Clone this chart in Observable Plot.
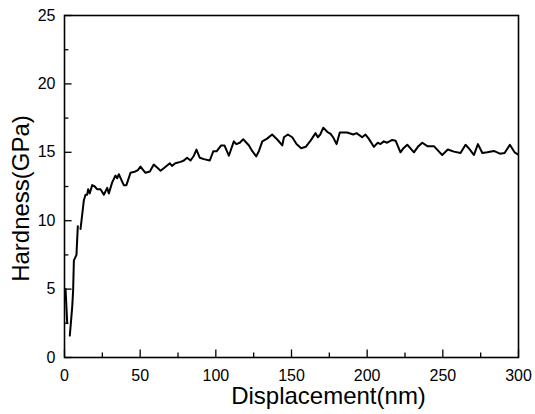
<!DOCTYPE html>
<html>
<head>
<meta charset="utf-8">
<script src="https://cdn.jsdelivr.net/npm/d3@7"></script>
<script src="https://cdn.jsdelivr.net/npm/@observablehq/plot@0.6"></script>
<style>
  html, body { margin: 0; padding: 0; background: white; }
  #chart { width: 535px; height: 414px; }
</style>
</head>
<body>
<div id="chart"></div>
<script>
// Data
const displacement = [0.7,1.8,2.6,3.5,5.1,5.7,6.2,7.9,8.8,9.7,10.6,12.8,13.9,15,15.6,16.7,18.3,20,21.5,23.8,26,28.2,29.3,31.5,33.7,34.8,35.9,37.5,39.2,40.9,43.6,46.9,48.5,50.2,53.5,56.4,59,61,63.5,66.8,69.6,71,73.2,76.7,78.9,81,83.3,85.5,87.2,89.4,92.1,96,98.3,100.5,103.5,105.7,108.6,111.9,113.5,115.8,118.1,121.9,124,126.7,128.5,130.7,133.9,137.2,140.9,143.9,145,147.6,150.5,153.3,156.4,159.4,162.6,165.9,167.4,169,171,173.6,175.8,177.5,179.8,181.9,186.7,190.8,193,196.7,198.9,201,204.4,207,208.8,211,213.2,216.6,218.8,222,224,226.5,228.5,230.9,233.5,236.4,239.8,244.1,247,249.6,253.3,257.3,261.7,265,267.9,270.5,273.2,276.1,279.4,283.7,287.7,290.8,294.3,297.4,299.6];
const hardness = [5.0,2.5,null,1.6,3.7,4.9,7.1,7.5,9.6,null,9.4,11.5,11.9,11.9,12.3,12.0,12.6,12.5,12.3,12.3,11.9,12.4,12.0,12.8,13.3,13.1,13.4,13.0,12.6,12.6,13.5,13.6,13.7,13.95,13.5,13.6,14.1,13.9,13.65,13.95,14.2,14.0,14.2,14.3,14.4,14.6,14.4,14.75,15.2,14.6,14.5,14.4,15.07,15.07,15.5,15.5,14.75,15.8,15.6,15.7,15.95,15.5,15.1,14.7,15.1,15.8,16.0,16.3,15.9,15.5,16.1,16.3,16.1,15.6,15.3,15.4,15.85,16.4,16.1,16.3,16.8,16.5,16.35,16.1,15.6,16.45,16.45,16.3,16.4,16.1,16.3,16.0,15.4,15.7,15.6,15.8,15.7,15.9,15.85,15.0,15.3,15.55,15.3,15.0,15.4,15.7,15.45,15.45,15.1,14.8,15.2,15.05,14.95,15.55,15.2,14.8,15.6,14.95,15.0,15.1,14.9,14.95,15.55,15.0,14.85];

const xMajor = [0, 50, 100, 150, 200, 250, 300];
const xMinor = [25, 75, 125, 175, 225, 275];
const yMajor = [0, 5, 10, 15, 20, 25];
const yMinor = [2.5, 7.5, 12.5, 17.5, 22.5];
const xTitle = "Displacement(nm)";
const yTitle = "Hardness(GPa)";

const data = displacement.map((x, i) => ({x, y: hardness[i]}));

const chart = Plot.plot({
  width: 535,
  height: 414,
  marginLeft: 64,
  marginRight: 17,
  marginTop: 15,
  marginBottom: 57,
  style: {fontFamily: "'Liberation Sans', Arial, sans-serif", fontSize: "16px", color: "black", background: "white"},
  x: {domain: [0, 300]},
  y: {domain: [0, 25]},
  marks: [
    Plot.line(data, {x: "x", y: "y", stroke: "black", strokeWidth: 2}),
    // inward ticks (bottom and left only)
    Plot.ruleX(xMajor, {x: d => d, y1: 0, y2: 0.55, stroke: "black", strokeWidth: 1.3}),
    Plot.ruleX(xMinor, {x: d => d, y1: 0, y2: 0.32, stroke: "black", strokeWidth: 1.3}),
    Plot.ruleY(yMajor, {y: d => d, x1: 0, x2: 5, stroke: "black", strokeWidth: 1.3}),
    Plot.ruleY(yMinor, {y: d => d, x1: 0, x2: 2.9, stroke: "black", strokeWidth: 1.3}),
    // tick labels
    Plot.axisX({ticks: xMajor, tickSize: 0, tickPadding: 12, label: null, fontSize: 16}),
    Plot.axisY({ticks: yMajor, tickSize: 0, tickPadding: 9, label: null, fontSize: 16}),
    // titles
    Plot.text([xTitle], {frameAnchor: "bottom", lineAnchor: "middle", dx: 37, dy: 39, fontSize: 24, fill: "black"}),
    Plot.text([yTitle], {frameAnchor: "left", textAnchor: "middle", lineAnchor: "middle", rotate: -90, dx: -43, dy: 12, fontSize: 24, fill: "black"}),
    Plot.frame({stroke: "black", strokeWidth: 1.6})
  ]
});
document.getElementById("chart").appendChild(chart);
</script>
</body>
</html>
